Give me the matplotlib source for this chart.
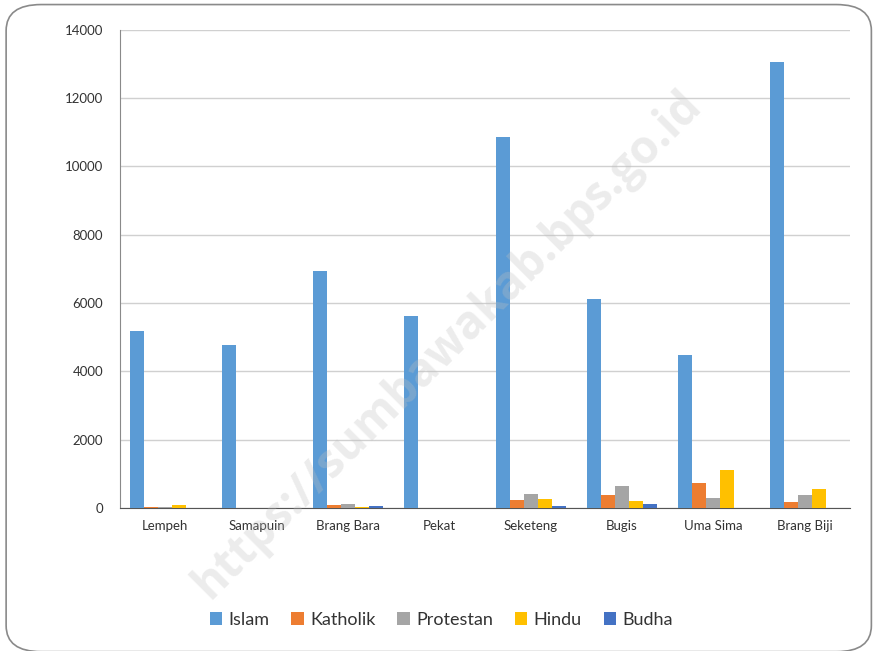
import matplotlib.pyplot as plt
import numpy as np
from matplotlib.patches import FancyBboxPatch

plt.rcParams['font.family'] = 'Lato'

desa = ['Lempeh', 'Samapuin', 'Brang Bara', 'Pekat', 'Seketeng', 'Bugis', 'Uma Sima', 'Brang Biji']
agama = ['Islam', 'Katholik', 'Protestan', 'Hindu', 'Budha']
islam = [5180, 4770, 6940, 5620, 10870, 6120, 4480, 13060]
katholik = [15, 0, 80, 0, 220, 380, 740, 155]
protestan = [25, 0, 100, 0, 410, 635, 300, 380]
hindu = [70, 0, 10, 0, 255, 190, 1095, 555]
budha = [0, 0, 50, 0, 50, 110, 0, 0]
warna = ['#5B9BD5', '#ED7D31', '#A5A5A5', '#FFC000', '#4472C4']

fig = plt.figure(figsize=(8.74, 6.51), dpi=100)
ax = fig.add_axes([0.137, 0.22, 0.836, 0.734])

# rounded frame round the whole picture
frame = FancyBboxPatch((0.007, -0.001), 0.99, 0.994, boxstyle='round,pad=0,rounding_size=0.04',
                       transform=fig.transFigure, fill=False, ec='#8a8a8a', lw=1.2)
fig.patches.append(frame)

x = np.arange(len(desa))
w = 0.153
for i, (nama, nilai) in enumerate(zip(agama, [islam, katholik, protestan, hindu, budha])):
    ax.bar(x - 2 * w + i * w, nilai, width=w, color=warna[i], label=nama, zorder=3)

ax.set_xlim(-0.5, len(desa) - 0.5)
ax.set_ylim(0, 14000)
ax.set_yticks(range(0, 14001, 2000))
ax.set_xticks(x)
ax.set_xticklabels(desa)
ax.tick_params(length=0, labelsize=9.5, colors='#333333')
ax.tick_params(axis='x', pad=9)
ax.tick_params(axis='y', pad=12)
ax.grid(axis='y', color='#d0d0d0', lw=1, zorder=0)
for s in ['top', 'right']:
    ax.spines[s].set_visible(False)
ax.spines['left'].set_color('#8a8a8a')
ax.spines['bottom'].set_color('#555555')

ax.legend(loc='center', bbox_to_anchor=(0.505, 0.048), bbox_transform=fig.transFigure, ncol=5,
          frameon=False, fontsize=13, handlelength=0.7, handleheight=0.7, handletextpad=0.35,
          columnspacing=1.2, labelcolor='#333333')

# watermark
fig.text(0.512, 0.47, 'https://sumbawakab.bps.go.id', rotation=45, fontsize=33, fontweight='bold',
         color='#c0c0c0', alpha=0.3, ha='center', va='center', family='Open Sans', zorder=5)

fig.savefig('out.png', dpi=100)
